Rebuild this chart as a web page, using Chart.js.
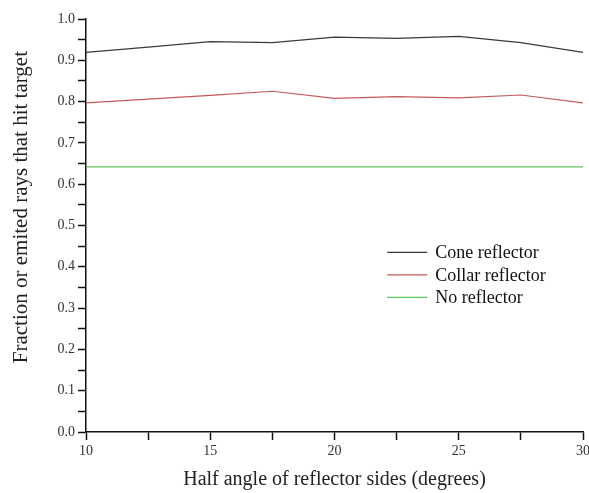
<!DOCTYPE html>
<html>
<head>
<meta charset="utf-8">
<script src="https://cdn.jsdelivr.net/npm/chart.js@4/dist/chart.umd.min.js"></script>
<style>
html,body{margin:0;padding:0;background:#fff;}
#wrap{width:589px;height:493px;position:relative;}
</style>
</head>
<body>
<div id="wrap"><canvas id="c" width="589" height="493"></canvas></div>
<script>
const halfAngles = [10, 12.5, 15, 17.5, 20, 22.5, 25, 27.5, 30];
const coneReflector = [0.919, 0.932, 0.945, 0.943, 0.956, 0.953, 0.958, 0.943, 0.919];
const collarReflector = [0.797, 0.806, 0.815, 0.825, 0.808, 0.812, 0.809, 0.816, 0.797];
const noReflector = [0.642, 0.642, 0.642, 0.642, 0.642, 0.642, 0.642, 0.642, 0.642];
const seriesNames = ['Cone reflector', 'Collar reflector', 'No reflector'];
const xTickLabels = [10, 15, 20, 25, 30];
const yTickLabels = [0.0, 0.1, 0.2, 0.3, 0.4, 0.5, 0.6, 0.7, 0.8, 0.9, 1.0];

const serif = "'Liberation Serif', 'Times New Roman', serif";
const toPts = arr => halfAngles.map((x, i) => ({x, y: arr[i]}));

const legendInside = {
  id: 'legendInside',
  afterDraw(chart) {
    const ctx = chart.ctx;
    const ca = chart.chartArea;
    const x0 = ca.left + (ca.right - ca.left) * 0.606;
    const y0 = ca.top + (ca.bottom - ca.top) * 0.565;
    ctx.save();
    ctx.font = "18px " + serif;
    ctx.textBaseline = 'middle';
    chart.data.datasets.forEach((ds, i) => {
      const y = y0 + i * 22.5;
      ctx.strokeStyle = ds.borderColor;
      ctx.lineWidth = 1.2;
      ctx.beginPath();
      ctx.moveTo(x0, y);
      ctx.lineTo(x0 + 40, y);
      ctx.stroke();
      ctx.fillStyle = '#111';
      ctx.fillText(ds.label, x0 + 48, y + 1);
    });
    ctx.restore();
  }
};

new Chart(document.getElementById('c'), {
  type: 'line',
  data: {
    datasets: [
      {label: seriesNames[0], data: toPts(coneReflector), borderColor: '#3a3a3a', borderWidth: 1.2, pointRadius: 0, tension: 0},
      {label: seriesNames[1], data: toPts(collarReflector), borderColor: '#c85a5a', borderWidth: 1.2, pointRadius: 0, tension: 0},
      {label: seriesNames[2], data: toPts(noReflector), borderColor: '#5cc45c', borderWidth: 1.4, pointRadius: 0, tension: 0}
    ]
  },
  options: {
    responsive: false,
    animation: false,
    devicePixelRatio: 1,
    layout: {padding: {top: 19, right: 0, left: 0, bottom: 0}},
    plugins: {legend: {display: false}, tooltip: {enabled: false}},
    scales: {
      x: {
        type: 'linear', min: 10, max: 30,
        border: {display: true, color: '#111', width: 1.5},
        grid: {drawOnChartArea: false, tickLength: 8, color: '#111', tickWidth: 1.5},
        ticks: {
          stepSize: 2.5, autoSkip: false, maxRotation: 0, padding: 3,
          color: '#333', font: {family: serif, size: 14},
          callback: v => xTickLabels.includes(v) ? String(v) : ''
        },
        title: {display: true, text: 'Half angle of reflector sides (degrees)', color: '#222',
                font: {family: serif, size: 20}, padding: {top: 0, bottom: 1}},
        afterFit: s => { s.height = 61; s.paddingRight = 6; }
      },
      y: {
        min: 0, max: 1,
        border: {display: true, color: '#111', width: 1.5},
        grid: {drawOnChartArea: false, tickLength: 8, color: '#111', tickWidth: 1.5},
        ticks: {
          stepSize: 0.05, autoSkip: false, padding: 3,
          color: '#333', font: {family: serif, size: 14},
          callback: v => {
            const m = yTickLabels.find(t => Math.abs(t - v) < 1e-6);
            return m === undefined ? '' : m.toFixed(1);
          }
        },
        title: {display: true, text: '\u00a0\u00a0\u00a0\u00a0\u00a0\u00a0\u00a0Fraction or emited rays that hit target', color: '#222',
                font: {family: serif, size: 21}, padding: {top: 9, bottom: 0}},
        afterFit: s => { s.width = 86; }
      }
    }
  },
  plugins: [legendInside]
});
</script>
</body>
</html>
